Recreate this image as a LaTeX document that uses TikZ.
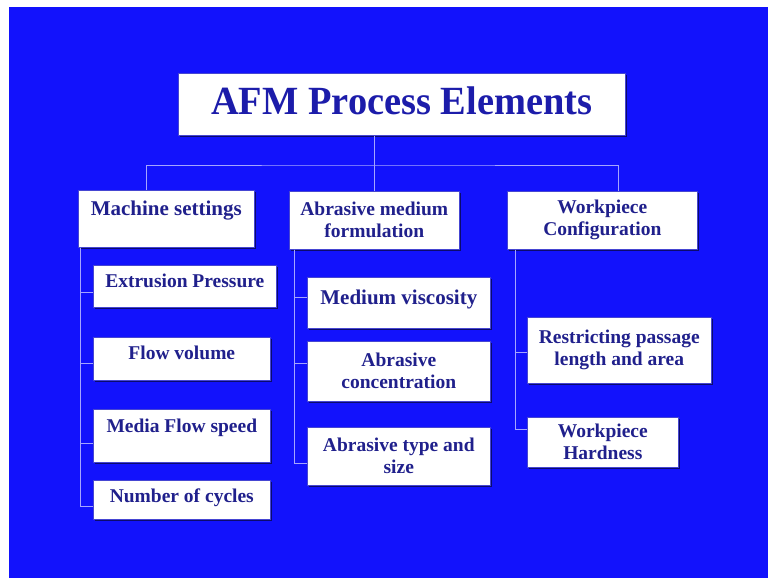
\documentclass[tikz,border=0pt]{standalone}
\usepackage{fontspec}
\setmainfont{Liberation Serif}
\newfontfamily\titlefont[FakeStretch=0.96]{Liberation Serif}
\usetikzlibrary{calc,shadows}
\definecolor{bgblue}{RGB}{18,18,252}
\definecolor{navy}{RGB}{32,32,140}
\definecolor{titleblue}{RGB}{28,28,170}
\definecolor{linec}{RGB}{165,165,255}
\definecolor{edgec}{RGB}{70,70,210}
\definecolor{shadowc}{RGB}{10,10,110}
\tikzset{
  box/.style={draw=edgec, fill=white, line width=0.6pt, inner sep=0pt,
    anchor=north west, align=center, text=navy,
    font=\fontsize{19.5}{22}\selectfont\bfseries,
    drop shadow={shadow xshift=1.5pt, shadow yshift=-1.5pt, fill=shadowc, opacity=1}},
  conn/.style={draw=linec, line width=0.8pt},
  tb/.style 2 args={text height=#1pt, text depth=#2pt},
  bigfont/.style={font=\fontsize{21}{24}\selectfont\bfseries},
}
\begin{document}
\begin{tikzpicture}[x=1pt,y=-1pt]
\useasboundingbox (0,0) rectangle (768,578);
\fill[white] (0,0) rectangle (768,578);
\fill[bgblue] (9,7) rectangle (768,578);

% title
\node[box, minimum width=447pt, tb={41}{21},
  font=\titlefont\fontsize{40}{44}\selectfont\bfseries, text=titleblue]
  (title) at (178,73) {AFM Process Elements};

% level 1
\node[box, bigfont, minimum width=176pt, tb={25}{32}] (ms) at (78,190) {Machine settings};
\node[box, minimum width=170pt, minimum height=58pt] (am) at (289,191) {Abrasive medium\\formulation};
\node[box, minimum width=190pt, minimum height=58pt] (wc) at (507,191) {Workpiece\\Configuration};

% machine settings children
\node[box, minimum width=183pt, tb={22.5}{19.5}] (ep) at (93,265) {Extrusion Pressure};
\node[box, minimum width=177pt, tb={22.5}{20.5}] (fv) at (93,337) {Flow volume};
\node[box, minimum width=177pt, tb={23.5}{29.5}] (mf) at (93,409) {Media Flow speed};
\node[box, minimum width=177pt, tb={22.5}{16.5}] (nc) at (93,480) {Number of cycles};

% abrasive medium children
\node[box, bigfont, minimum width=183pt, tb={27}{24}] (mv) at (307,277) {Medium viscosity};
\node[box, minimum width=183pt, minimum height=60pt] (ac) at (307,341) {Abrasive\\concentration};
\node[box, minimum width=183pt, minimum height=58pt] (ats) at (307,427) {Abrasive type and\\size};

% workpiece children
\node[box, minimum width=184pt, minimum height=66pt] (rp) at (527,317) {Restricting passage\\length and area};
\node[box, minimum width=151pt, minimum height=50pt] (wh) at (527,417) {Workpiece\\Hardness};

% connectors
\coordinate (hub) at ($(am.north)+(0,-26)$);
\draw[conn] (title.south -| am.north) -- (am.north);
\draw[conn] ($(ms.north west)+(68,0)$) |- (hub) -| ($(wc.north west)+(111,0)$);

\coordinate (msl) at ($(ms.south west)+(2,0)$);
\foreach \n/\d in {ep/6, fv/4.5, mf/7.5, nc/6.5}
  \draw[conn] (msl) |- ($(\n.west)+(0,\d)$);

\coordinate (aml) at ($(am.south west)+(5,0)$);
\foreach \n/\d in {mv/-5.5, ac/-8, ats/7}
  \draw[conn] (aml) |- ($(\n.west)+(0,\d)$);

\coordinate (wcl) at ($(wc.south west)+(8,0)$);
\foreach \n/\d in {rp/2, wh/-13}
  \draw[conn] (wcl) |- ($(\n.west)+(0,\d)$);
\end{tikzpicture}
\end{document}
